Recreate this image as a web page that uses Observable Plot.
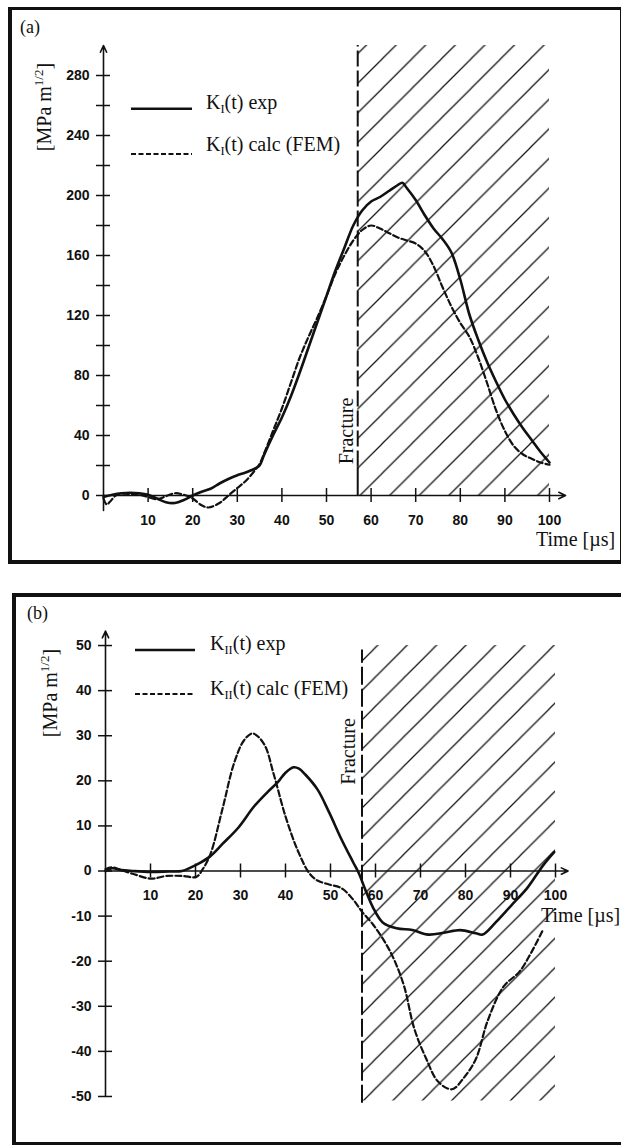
<!DOCTYPE html>
<html><head><meta charset="utf-8">
<script src="https://cdn.jsdelivr.net/npm/d3@7"></script>
<script src="https://cdn.jsdelivr.net/npm/@observablehq/plot@0.6"></script>
<style>
html,body{margin:0;padding:0;background:#fff;}
#root{position:relative;width:621px;height:1145px;overflow:hidden;background:#fff;color:#111;}
.frame{position:absolute;box-sizing:border-box;border-style:solid;border-color:#111;}
.ser{position:absolute;font-family:"Liberation Serif","Times New Roman",serif;white-space:nowrap;line-height:1;color:#111;}
.rot{transform:translate(-50%,-50%) rotate(-90deg);}
.mid{transform:translateY(-50%);}
svg.plt{position:absolute;left:0;}
sub{font-size:0.62em;vertical-align:-0.3em;}
sup{font-size:0.65em;vertical-align:0.55em;}
</style></head><body><div id="root"></div>
<script>
// ---------- data ----------
const timeTicks = [10,20,30,40,50,60,70,80,90,100];
const kITicks = [0,20,40,60,80,100,120,140,160,180,200,220,240,260,280];
const kILabels = [0,40,80,120,160,200,240,280];
const kIITicks = [-50,-40,-30,-20,-10,0,10,20,30,40,50];
const fractureTime = [57];

// Panel (a): K_I(t)
const kIExpT = [0,2,4,6,8,10,12,14,16,18,20,22,24,26,28,30,32,34,35,36,38,40,42,44,46,48,50,52,54,56,58,60,62,64,66,67,68,70,72,74,76,78,80,82,84,86,88,90,92,94,96,98,100];
const kIExpV = [-1,0.5,1.5,1.8,1.5,0.5,-2,-4.5,-5,-3,0,2.5,4.5,8,11,13.5,15.5,18,20,27,40,52,66,82,99,116,133,150,165,180,190,196,199,203,207,208.5,205,197,187,178,171,162,144,121,104,89,76,64,54,45,37,29,22];
const kICalcT = [0,0.7,1.5,3,6,8,10,12,14,16,18,20,22,23.5,26,28,30,32,34,35,36,38,40,42,44,46,48,50,52,54,56,58,60,62,64,66,68,70,72,74,76,78,80,82,84,86,88,90,92,94,96,98,100];
const kICalcV = [-2,-6,-4,0.5,1,0.5,-1,-2.5,-0.5,1.5,0.5,-2,-6.5,-8,-5,0,5,10,17,21,28,43,58,75,92,106,119,133,148,160,170,177,180,178,175,172,170,168,163,153,139,126,115,106,92,75,57,43,33,27.5,24.5,22,20.5];

// Panel (b): K_II(t)
const kIIExpT = [0,1.5,3.5,6,10,14,17,19,21,23.3,26,29.5,33,36,38.3,40,41.8,43,44.4,47.1,49.7,52.4,55,56.3,57.6,59.4,61.6,64.7,68.2,71.7,75.2,78.8,82.3,83.8,86.7,90.2,93.7,97.2,99.7];
const kIIExpV = [0,0.6,0.2,0,-0.2,-0.1,0,0.8,1.8,3.3,6,9.6,14.3,17.5,19.7,21.8,23,22.7,21.4,18.1,13,7.1,2,-0.5,-3.8,-8,-11.4,-12.7,-13.1,-14.1,-13.7,-13.1,-13.8,-14.1,-11.4,-7.6,-3.8,1.2,4.2];
const kIICalcT = [0,1.5,3.5,6,10.1,13.6,17.2,20.2,21.6,23.3,26,28.6,30.8,32.7,35.2,37.4,40,42.7,45.3,47.1,49.7,52.4,55,56.9,59.4,62,64.2,66.4,68.6,71.3,73.9,77,79.6,82.3,84.9,88.4,92,94.6,97.2];
const kIICalcV = [0.4,0.8,0.2,-0.6,-1.7,-1.1,-1.1,-1.3,0.4,3.7,13.8,24,29,30.5,28.2,21.4,12.1,4.6,-0.5,-2.1,-3,-3.8,-6.3,-8.9,-11.8,-15.6,-19.8,-25.7,-34.9,-41.7,-46.7,-48.4,-45.9,-41.7,-33.3,-25.7,-22.3,-18.1,-13.1];

// ---------- helpers ----------
const root = document.getElementById("root");
const INK = "#111";
const sans = "Liberation Sans, Arial, Helvetica, sans-serif";
const serif = "Liberation Serif, Times New Roman, serif";

function frame(l, t, w, h, bw) {
  const d = document.createElement("div");
  d.className = "frame";
  Object.assign(d.style, {left: l+"px", top: t+"px", width: w+"px", height: h+"px", borderWidth: bw});
  root.appendChild(d);
}
function html(cls, l, t, content, size) {
  const d = document.createElement("div");
  d.className = cls;
  d.style.left = l + "px"; d.style.top = t + "px";
  d.style.fontSize = size + "px";
  d.innerHTML = content;
  root.appendChild(d);
  return d;
}
function legendLine(x1, x2, y, dash, w) {
  const ns = "http://www.w3.org/2000/svg";
  const s = document.createElementNS(ns, "svg");
  s.setAttribute("width", 621); s.setAttribute("height", 1145);
  s.style.position = "absolute"; s.style.left = "0"; s.style.top = "0";
  const l = document.createElementNS(ns, "line");
  l.setAttribute("x1", x1); l.setAttribute("x2", x2); l.setAttribute("y1", y); l.setAttribute("y2", y);
  l.setAttribute("stroke", INK); l.setAttribute("stroke-width", w);
  if (dash) l.setAttribute("stroke-dasharray", dash);
  s.appendChild(l);
  root.appendChild(s);
}
function addHatch(svg, id, size, ox, oy) {
  const ns = "http://www.w3.org/2000/svg";
  const defs = document.createElementNS(ns, "defs");
  const p = document.createElementNS(ns, "pattern");
  p.setAttribute("id", id);
  p.setAttribute("patternUnits", "userSpaceOnUse");
  p.setAttribute("width", size); p.setAttribute("height", size);
  p.setAttribute("x", ox); p.setAttribute("y", oy);
  const path = document.createElementNS(ns, "path");
  const s = size;
  path.setAttribute("d", `M0,${s} L${s},0 M${-s/2},${s/2} L${s/2},${-s/2} M${s/2},${1.5*s} L${1.5*s},${s/2}`);
  path.setAttribute("stroke", INK);
  path.setAttribute("stroke-width", 1.25);
  path.setAttribute("fill", "none");
  p.appendChild(path);
  defs.appendChild(p);
  svg.insertBefore(defs, svg.firstChild);
}

// ---------- frames ----------
frame(8, 7, 616, 557, "3px 4px 4px 4px");
frame(12, 593, 615, 552, "4px 3px 3px 4px");

// ---------- panel (a) ----------
const tickFont = {fontFamily: sans, fontWeight: "bold", fontSize: 14, fill: INK};
const plotA = Plot.plot({
  width: 621, height: 562,
  marginLeft: 103, marginRight: 72, marginTop: 45, marginBottom: 52,
  x: {domain: [0, 100], axis: null},
  y: {domain: [-10, 300], axis: null},
  style: {background: "transparent", overflow: "visible"},
  marks: [
    Plot.text(timeTicks, {x: d => d, y: 0, dy: 25, text: d => String(d), ...tickFont}),
    Plot.text(kILabels, {x: 0, y: d => d, dx: -14, textAnchor: "end", text: d => String(d), ...tickFont}),
    Plot.rect(fractureTime, {x1: d => d, x2: 100, y1: 0, y2: 300, fill: "url(#hatchA)"}),
    Plot.ruleX(fractureTime, {y1: 19, y2: 300, stroke: INK, strokeWidth: 2, strokeDasharray: "16,4"}),
    Plot.ruleX(fractureTime, {y1: 0, y2: 19, stroke: INK, strokeWidth: 2}),
    Plot.text(["Fracture"], {x: fractureTime[0], y: 43, dx: -11, rotate: -90, text: d => d, fontFamily: serif, fontSize: 20, fill: INK}),
    Plot.arrow([0], {x1: 0, y1: -10, x2: 0, y2: 300, stroke: INK, strokeWidth: 1.6, headLength: 7, headAngle: 50}),
    Plot.arrow([0], {x1: 0, y1: 0, x2: 103.6, y2: 0, stroke: INK, strokeWidth: 1.6, headLength: 7, headAngle: 50}),
    Plot.ruleY(kITicks, {x1: 0, x2: 0, insetLeft: -7, insetRight: -7, stroke: INK, strokeWidth: 1.5}),
    Plot.ruleX(timeTicks, {y1: 0, y2: 0, insetTop: -7, insetBottom: -7, stroke: INK, strokeWidth: 1.5}),
    Plot.line(kICalcT, {x: kICalcT, y: kICalcV, curve: "catmull-rom", stroke: INK, strokeWidth: 2.2, strokeDasharray: "6,3"}),
    Plot.line(kIExpT, {x: kIExpT, y: kIExpV, curve: "catmull-rom", stroke: INK, strokeWidth: 2.6})
  ]
});
plotA.classList.add("plt");
plotA.style.top = "0px";
addHatch(plotA, "hatchA", 29.6, 26.7, 0);
root.appendChild(plotA);

// ---------- panel (b) ----------
const plotB = Plot.plot({
  width: 621, height: 583,
  marginLeft: 105, marginRight: 66, marginTop: 65, marginBottom: 40,
  x: {domain: [0, 100], axis: null},
  y: {domain: [-52, 54], axis: null},
  style: {background: "transparent", overflow: "visible"},
  marks: [
    Plot.text(timeTicks, {x: d => d, y: 0, dy: 25, text: d => String(d), ...tickFont}),
    Plot.text(kIITicks, {x: 0, y: d => d, dx: -14, textAnchor: "end", text: d => String(d), ...tickFont}),
    Plot.rect(fractureTime, {x1: d => d, x2: 100, y1: -51, y2: 50, fill: "url(#hatchB)"}),
    Plot.ruleX(fractureTime, {y1: -51.5, y2: 49, stroke: INK, strokeWidth: 2, strokeDasharray: "18,4"}),
    Plot.text(["Fracture"], {x: fractureTime[0], y: 26.5, dx: -13, rotate: -90, text: d => d, fontFamily: serif, fontSize: 20, fill: INK}),
    Plot.arrow([0], {x1: 0, y1: -50, x2: 0, y2: 53.2, stroke: INK, strokeWidth: 1.6, headLength: 7, headAngle: 50}),
    Plot.arrow([0], {x1: 0, y1: 0, x2: 102.8, y2: 0, stroke: INK, strokeWidth: 1.6, headLength: 7, headAngle: 50}),
    Plot.ruleY(kIITicks, {x1: 0, x2: 0, insetLeft: -7, insetRight: -7, stroke: INK, strokeWidth: 1.5}),
    Plot.ruleX(timeTicks, {y1: 0, y2: 0, insetTop: -7, insetBottom: -7, stroke: INK, strokeWidth: 1.5}),
    Plot.line(kIICalcT, {x: kIICalcT, y: kIICalcV, curve: "catmull-rom", stroke: INK, strokeWidth: 2.2, strokeDasharray: "6,3"}),
    Plot.line(kIIExpT, {x: kIIExpT, y: kIIExpV, curve: "catmull-rom", stroke: INK, strokeWidth: 2.6})
  ]
});
plotB.classList.add("plt");
plotB.style.top = "562px";
addHatch(plotB, "hatchB", 29.4, 20, 0);
root.appendChild(plotB);

// ---------- text & legends ----------
html("ser mid", 20, 27, "(a)", 18);
html("ser mid", 27, 613, "(b)", 18);
html("ser rot", 43, 107, "[MPa m<sup>1/2</sup>]", 20);
html("ser rot", 49, 693, "[MPa m<sup>1/2</sup>]", 20);
html("ser mid", 536, 539, "Time [&micro;s]", 20);
html("ser mid", 541, 915, "Time [&micro;s]", 20);

legendLine(131, 192, 108.7, null, 2.6);
legendLine(131, 192, 154, "5,2.5", 2.2);
html("ser mid", 206, 104, "K<sub>I</sub>(t) exp", 20);
html("ser mid", 206, 146, "K<sub>I</sub>(t) calc (FEM)", 20);

legendLine(135, 195, 650, null, 2.6);
legendLine(135, 195, 694, "5,2.5", 2.2);
html("ser mid", 210, 645, "K<sub>II</sub>(t) exp", 20);
html("ser mid", 210, 690, "K<sub>II</sub>(t) calc (FEM)", 20);
</script>
</body></html>
